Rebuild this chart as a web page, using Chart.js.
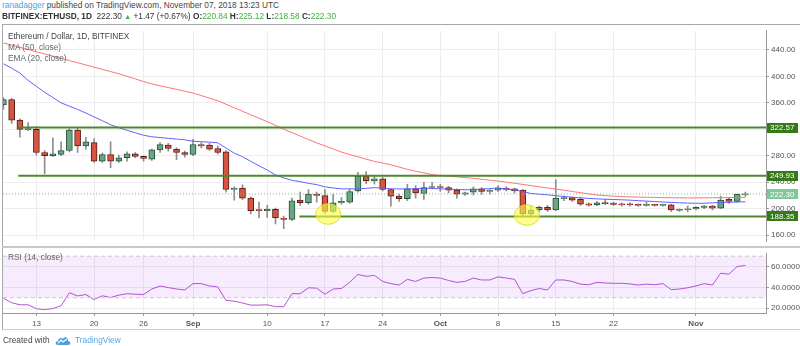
<!DOCTYPE html>
<html lang="en">
<head>
<meta charset="UTF-8">
<title>ETHUSD 1D</title>
<script src="https://cdn.jsdelivr.net/npm/chart.js"></script>
<style>
    body { margin: 0; background: #fff; font-family: "Liberation Sans", Arial, sans-serif; }
    #wrap { position: relative; width: 800px; height: 346px; overflow: hidden; background: #fff; }
    .txt { position: absolute; font-size: 8.3px; line-height: 10px; color: #444; white-space: nowrap; }
    .g { color: #3fae3f; }
    #frame { position: absolute; left: 2px; top: 24px; width: 800px; height: 304px;
             border-left: 1px solid #a8a8a8; border-top: 1px solid #a8a8a8; border-bottom: 1px solid #cfcfcf; }
    #sep { position: absolute; left: 2px; top: 246px; width: 798px; height: 2px; background: #c8c8c8; }
    #price { position: absolute; left: 0; top: 24px; }
    #rsi { position: absolute; left: 0; top: 247px; }
</style>
</head>
<body>
<div id="wrap">
    <div id="frame"></div>
    <canvas id="price" width="800" height="224"></canvas>
    <div id="sep"></div>
    <canvas id="rsi" width="800" height="84"></canvas>

    <div class="txt" style="left:2px;top:0px"><span style="color:#4aa3df">ranadagger</span> published on TradingView.com, November 07, 2018 13:23 UTC</div>
    <div class="txt" style="left:2px;top:11px;color:#333"><b>BITFINEX:ETHUSD, 1D</b>&nbsp; 222.30 <span class="g" style="font-size:7px">&#9650;</span> +1.47 (+0.67%) <b>O:</b><span class="g">220.84</span> <b>H:</b><span class="g">225.12</span> <b>L:</b><span class="g">218.58</span> <b>C:</b><span class="g">222.30</span></div>

    <div class="txt" style="left:8px;top:31px">Ethereum / Dollar, 1D, BITFINEX</div>
    <div class="txt" style="left:8px;top:42px;color:#666">MA (50, close)</div>
    <div class="txt" style="left:8px;top:53px;color:#666">EMA (20, close)</div>
    <div class="txt" style="left:8px;top:252px;color:#666">RSI (14, close)</div>

    <div class="txt" style="left:3px;top:335px;color:#444">Created with</div>
    <svg style="position:absolute;left:55px;top:335px" width="16" height="11" viewBox="0 0 16 11">
        <path d="M3 10 C0 10 0 6 3 6 C3 3 7 2 8 4 C9 1 14 2 13 6 C16 6 16 10 13 10 Z" fill="#45a1e8"/>
        <path d="M3 8 L6 5 L8 7 L12 4" stroke="#fff" stroke-width="1.2" fill="none"/>
    </svg>
    <div class="txt" style="left:75px;top:335px;color:#5aa7e4">TradingView</div>
</div>

<script>
    // daily candles, 9 Aug 2018 .. 7 Nov 2018 (day index 0..90)
    const open  = [357, 365, 334, 319.5, 320, 285, 280, 282, 288, 319, 295, 300, 272, 282, 272, 277, 283, 279, 275, 289,
                   296, 290, 285, 282, 297, 296, 291, 286, 229, 231, 216, 198, 197, 199, 186, 184, 213, 209, 222, 220,
                   196, 209, 210, 227, 249, 242, 245, 229, 219, 215, 230, 223, 232, 233, 232, 228, 222, 225, 230, 226,
                   228, 231, 230, 228, 192, 198, 202, 198, 215, 217, 214, 207.5, 205.6, 209, 208.5, 207.5, 207, 206.6, 205, 206.5,
                   205, 206, 197.6, 198.5, 199.5, 202, 204, 201, 214.5, 211, 220.84];
    const high  = [368, 367, 336, 330, 324, 288, 307, 301, 321, 323, 308, 306, 284, 301, 281, 286, 285, 280, 290, 300,
                   299, 292, 287, 305, 300, 299, 295, 288, 233, 236, 218, 210, 205, 201, 189, 216, 225, 229, 225, 229,
                   222, 217, 230, 255, 256, 249, 248, 230, 222, 237, 235, 240, 240, 237, 234, 230, 225, 233, 232, 229,
                   235, 233, 231, 229, 204, 204, 205, 244, 219, 218, 217, 209, 211, 214, 210, 209, 209, 207.5, 210.5, 207,
                   207, 207, 200, 204, 203, 205, 205, 219, 217, 222, 225.12];
    const low   = [350, 329, 308, 318, 281, 253, 279, 280, 286, 285, 290, 270, 270, 262, 270, 272, 277, 272, 273, 285,
                   287, 274, 278, 280, 292, 288, 283, 225, 213, 214, 192, 186, 187, 177, 170, 182, 205, 207, 210, 193,
                   194, 207, 208, 225, 238, 237, 227, 204, 211, 212, 216, 214, 230, 226, 224, 216, 220, 221, 222, 222,
                   226, 227, 224, 189, 189, 196, 196, 197, 212, 211, 205, 204, 204.5, 206, 205, 204, 204, 204, 204, 204,
                   204, 196, 196, 195, 198, 200, 198, 200, 208, 210, 218.58];
    const close = [365, 334, 320, 320.5, 285, 280, 283, 288, 319, 295, 301, 272, 282, 272, 277, 283, 279, 276, 289, 297,
                   291, 285, 282, 297, 295, 290, 285, 229, 231, 216, 197, 197, 199, 186, 184, 212, 209, 222, 220, 196,
                   209, 211, 226, 249, 242, 245, 229, 219, 215, 230, 224, 232, 233, 232, 228, 222, 224, 230, 226, 228,
                   231, 229, 227, 192, 198, 202, 198, 216, 217, 213, 207, 205.5, 209, 207.6, 206.6, 205.6, 206, 205, 206.6, 205,
                   206.5, 198, 199, 200, 202, 204, 201, 213, 211, 221.8, 222.30];

    const ma50  = [450.5, 447.3, 444, 440.6, 437.3, 434, 430.6, 427.3, 423.9, 420.6, 417.3, 413.9, 410.6, 407.3, 403.9, 400.1, 396.2, 392.2, 388.7, 385.8,
                   383.1, 380.4, 377.6, 374.9, 371, 367.1, 363.2, 357.9, 352.6, 347.3, 342, 336.8, 331.5, 326, 320.2, 315, 309.8, 304.6, 299.4, 295.1,
                   290.4, 285.6, 281.9, 278.5, 274.9, 271.5, 269, 266.4, 262.9, 259.5, 256.7, 254.1, 251.5, 250.4, 249.2, 248.2, 247.1, 246, 244.5, 243.2,
                   241.8, 240.1, 238.4, 236.7, 235, 233.1, 231.4, 229.6, 227.9, 226, 224.3, 222.4, 220.7, 219.9, 219, 218.3, 217.9, 217.6, 217.3, 217,
                   216.7, 216.6, 216.4, 216.3, 216.3, 216.4, 216.5, 216.7, 216.9, 217.1, 217.3];
    const ema20 = [419, 412.5, 405, 394, 385, 376, 368, 360, 355, 350, 344.6, 338.8, 333, 327, 322.4, 318.5, 314.7, 311, 308.7, 307.6,
                   306.4, 305.3, 304.1, 302, 301.3, 300.6, 299.6, 291.7, 284, 278.6, 271.6, 265, 258.5, 251, 246.5, 243, 240.8, 238.4, 236.4, 233,
                   231.4, 230, 229.9, 229.9, 230.7, 231.8, 231.4, 230, 229.9, 229.9, 230.3, 231, 230.7, 230, 229.6, 229.1, 228.7, 228.7, 229.6, 230.4,
                   231.3, 229.7, 228.3, 225.9, 223, 221.9, 221, 219.7, 218.6, 217.3, 216.5, 215.6, 214.9, 214.3, 213.9, 213.5, 212.9, 212.2, 211.5, 210.8,
                   210.2, 209.5, 209, 208.5, 208.2, 208.3, 208.9, 209.5, 209.8, 210.1, 210.5];
    const rsi14 = [29.6, 25.2, 23.2, 23.2, 19.4, 18.5, 19.6, 22.3, 34.8, 31.7, 33.1, 28.2, 31.9, 30.2, 32.5, 33.9, 33.4, 33.1, 38.4, 41.3,
                   39.8, 38.4, 37.5, 43.6, 43.6, 41.3, 40.4, 27.5, 26.7, 24.9, 22.9, 22.9, 23.2, 21.4, 21.4, 33.9, 33.9, 39.6, 39.2, 33.4,
                   38.4, 38.9, 44.8, 52.4, 50.6, 51.5, 45.7, 43.6, 42.2, 47.7, 45.7, 48.9, 49.5, 48.9, 46.6, 44.8, 45.7, 48.9, 47.1, 47.1,
                   50.1, 48.9, 47.7, 33.9, 36.9, 38.9, 37.5, 47.1, 47.1, 45.7, 43.1, 42.5, 44.8, 44.2, 43.9, 43.9, 43.3, 42.2, 43.1, 42.5,
                   43.6, 37.8, 38.4, 39.6, 41.3, 43.6, 42.2, 53.6, 52.7, 60, 61.1];

    const tickDays   = [4, 11, 17, 23, 32, 39, 46, 53, 60, 67, 74, 84];
    const tickLabels = ['13', '20', '26', 'Sep', '10', '17', '24', 'Oct', '8', '15', '22', 'Nov'];
    const priceTicks = [160, 200, 240, 280, 320, 360, 400, 440];
    const rsiTicks   = [20, 40, 60];
    const rsiBand    = [30, 70];

    // drawn horizontal levels and the day each one starts on
    const levels    = [322.57, 249.93, 188.35];
    const levelFrom = [1.8, 1.8, 35.9];
    const lastClose = 222.30;
    // highlighted spots: [day, price]
    const circled   = [[39.4, 192], [63.5, 190.5]];

    const xMin = -0.05, xMax = 92.5;
    const FONT = '"Liberation Sans", Arial, sans-serif';
    Chart.defaults.font.family = FONT;
    Chart.defaults.font.size = 8;
    Chart.defaults.color = '#555';

    const pts = arr => arr.map((v, i) => ({x: i, y: v}));
    const isUp = i => close[i] >= open[i];
    const fixTicks = list => scale => { scale.ticks = list.map(v => ({value: v})); };

    const ringPlugin = {
        id: 'rings',
        afterDatasetsDraw(chart) {
            const {ctx, scales} = chart;
            ctx.save();
            circled.forEach(([d, p]) => {
                ctx.beginPath();
                ctx.ellipse(scales.x.getPixelForValue(d), scales.y.getPixelForValue(p), 12.5, 10.3, 0, 0, Math.PI * 2);
                ctx.fillStyle = 'rgba(255, 255, 70, 0.6)';
                ctx.fill();
                ctx.strokeStyle = 'rgba(220, 220, 40, 0.9)';
                ctx.lineWidth = 1;
                ctx.stroke();
            });
            ctx.restore();
        }
    };

    const tagPlugin = {
        id: 'tags',
        afterDraw(chart) {
            const {ctx, chartArea, scales} = chart;
            const tag = (v, bg) => {
                const y = scales.y.getPixelForValue(v);
                ctx.fillStyle = bg;
                ctx.fillRect(chartArea.right + 1, Math.round(y) - 5, 31, 10);
                ctx.fillStyle = '#fff';
                ctx.fillText(v.toFixed(2), chartArea.right + 4, y + 0.5);
            };
            ctx.save();
            ctx.font = '8px ' + FONT;
            ctx.textBaseline = 'middle';
            levels.forEach(v => tag(v, '#347a19'));
            tag(lastClose, '#80c79a');
            ctx.restore();
        }
    };

    new Chart(document.getElementById('price'), {
        type: 'bar',
        data: {
            datasets: [
                {
                    label: 'wick',
                    data: open.map((o, i) => ({x: i, y: [low[i], high[i]]})),
                    backgroundColor: '#8e8e8e',
                    barThickness: 1,
                    grouped: false,
                    order: 7
                },
                {
                    label: 'body',
                    data: open.map((o, i) => ({x: i, y: [o, close[i]]})),
                    backgroundColor: open.map((o, i) => isUp(i) ? '#6ba583' : '#d75442'),
                    borderColor: open.map((o, i) => isUp(i) ? '#225437' : '#5b1a13'),
                    borderWidth: 1,
                    borderSkipped: false,
                    barThickness: 6,
                    minBarLength: 1,
                    grouped: false,
                    order: 6
                },
                {
                    type: 'line', label: 'MA (50, close)', data: pts(ma50),
                    borderColor: '#ff7373', borderWidth: 1, pointRadius: 0, order: 5
                },
                {
                    type: 'line', label: 'EMA (20, close)', data: pts(ema20),
                    borderColor: '#6262ff', borderWidth: 1, pointRadius: 0, order: 4
                },
                {
                    type: 'line', label: 'last', data: [{x: xMin, y: lastClose}, {x: xMax, y: lastClose}],
                    borderColor: '#6fbd8b', borderWidth: 1, borderDash: [1, 2], pointRadius: 0, order: 3
                },
                ...levels.map((v, k) => ({
                    type: 'line', label: 'level', data: [{x: levelFrom[k], y: v}, {x: xMax, y: v}],
                    borderColor: '#4a8a2c', borderWidth: 2, pointRadius: 0, order: 2
                }))
            ]
        },
        options: {
            responsive: false,
            animation: false,
            layout: {padding: {left: 3, right: 0, top: 0, bottom: 1}},
            plugins: {legend: {display: false}, tooltip: {enabled: false}},
            scales: {
                x: {
                    type: 'linear', min: xMin, max: xMax, offset: false,
                    afterBuildTicks: fixTicks(tickDays),
                    afterFit: s => { s.height = 0; },
                    ticks: {display: false},
                    grid: {color: '#ededed', drawTicks: false, offset: false},
                    border: {display: false}
                },
                y: {
                    position: 'right', min: 150.9, max: 468.9,
                    afterBuildTicks: fixTicks(priceTicks),
                    afterFit: s => { s.width = 34; },
                    ticks: {callback: v => v.toFixed(2), padding: 2},
                    grid: {color: '#ededed', tickLength: 3, tickColor: '#999'},
                    border: {color: '#999'}
                }
            }
        },
        plugins: [ringPlugin, tagPlugin]
    });

    new Chart(document.getElementById('rsi'), {
        type: 'line',
        data: {
            datasets: [
                {
                    data: [{x: xMin, y: rsiBand[1]}, {x: xMax, y: rsiBand[1]}],
                    borderColor: '#c9c9c9', borderWidth: 1, borderDash: [4, 3], pointRadius: 0, fill: false
                },
                {
                    data: [{x: xMin, y: rsiBand[0]}, {x: xMax, y: rsiBand[0]}],
                    borderColor: '#c9c9c9', borderWidth: 1, borderDash: [4, 3], pointRadius: 0,
                    fill: '-1', backgroundColor: 'rgba(150, 40, 230, 0.09)'
                },
                {
                    label: 'RSI (14, close)', data: pts(rsi14),
                    borderColor: '#b654d4', borderWidth: 1, pointRadius: 0, fill: false
                }
            ]
        },
        options: {
            responsive: false,
            animation: false,
            layout: {padding: {left: 3, right: 0, top: 1, bottom: 0}},
            plugins: {legend: {display: false}, tooltip: {enabled: false}},
            scales: {
                x: {
                    type: 'linear', min: xMin, max: xMax,
                    afterBuildTicks: fixTicks(tickDays),
                    afterFit: s => { s.height = 18; },
                    ticks: {
                        autoSkip: false, maxRotation: 0, padding: 3,
                        callback: v => tickLabels[tickDays.indexOf(v)],
                        font: c => {
                            const lab = c.tick ? tickLabels[tickDays.indexOf(c.tick.value)] : '';
                            return {size: 8, weight: /[A-Z]/.test(lab || '') ? 'bold' : 'normal'};
                        }
                    },
                    grid: {color: '#ededed', tickLength: 3, tickColor: '#999'},
                    border: {color: '#999'}
                },
                y: {
                    position: 'right', min: 15.3, max: 72.3,
                    afterBuildTicks: fixTicks(rsiTicks),
                    afterFit: s => { s.width = 34; },
                    ticks: {callback: v => v.toFixed(4), padding: 2},
                    grid: {color: '#ededed', tickLength: 3, tickColor: '#999'},
                    border: {color: '#999'}
                }
            }
        }
    });
</script>
</body>
</html>
